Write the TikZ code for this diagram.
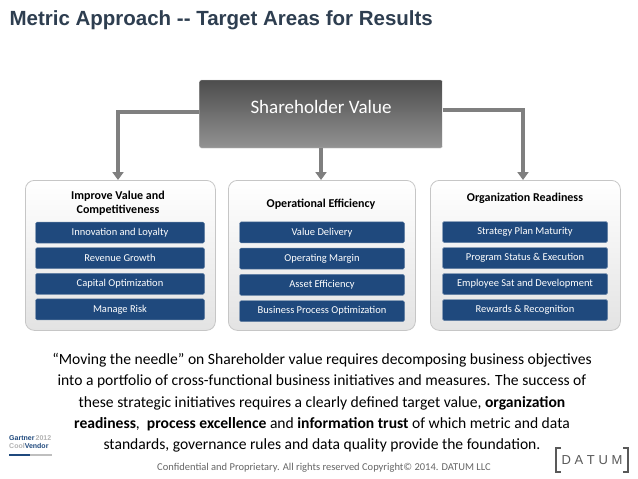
\documentclass[tikz,border=0pt]{standalone}
\usepackage{fontspec}
\setmainfont{Carlito}
\newfontfamily\headfont{Liberation Sans}
\usetikzlibrary{positioning,arrows.meta}
\definecolor{barblue}{HTML}{1F497D}
\definecolor{titlecol}{HTML}{2E3E50}
\definecolor{arrowgray}{HTML}{7F7F7F}
\tikzset{
  panel/.style={draw=gray!45, line width=0.8pt, rounded corners=9pt, top color=white, bottom color=gray!22, minimum width=#1, minimum height=150pt, anchor=north west},
  bar/.style={fill=barblue, draw=barblue!70!white, rounded corners=1.5pt, minimum height=21pt, text=white, font=\fontsize{10.5}{12}\selectfont},
  head/.style={font=\bfseries\fontsize{12}{14}\selectfont, align=center},
  feed/.style={draw=arrowgray, line width=3.5pt, -{Triangle[length=8pt,width=11pt]}}
}
\begin{document}
\begin{tikzpicture}[x=1pt,y=-1pt]
  \useasboundingbox[fill=white] (0,0) rectangle (638,479);
  \node[anchor=west, font=\headfont\bfseries\fontsize{20.5}{24}\selectfont, text=titlecol] (title) at (6,20) {Metric Approach -- Target Areas for Results};
  % top box
  \node[minimum width=243pt, minimum height=68pt, top color=gray!60!black, bottom color=gray!85, draw=gray!40, rounded corners=2pt, text=white, font=\fontsize{19}{22}\selectfont, text depth=14pt] (sv) at (321,114) {Shareholder Value};
  % panels
  \node[panel=190pt] (p1) at (25,180) {};
  \node[panel=187pt] (p2) at (228,180) {};
  \node[panel=190pt] (p3) at (430,180) {};
  \node[head] (h1) at (118,203) {Improve Value and\\Competitiveness};
  \node[head] (h2) at (321,204) {Operational Efficiency};
  \node[head] (h3) at (525,198) {Organization Readiness};
  % connectors
  \coordinate (c1) at (118,112);
  \coordinate (c3) at (523,110);
  \draw[feed] (sv.west |- c1) -- (c1) -- (p1.north -| c1);
  \draw[feed] (sv.south) -- (p2.north -| sv.south);
  \draw[feed] (sv.east |- c3) -- (c3) -- (p3.north -| c3);
  % bars
  \foreach \t [count=\i] in {Innovation and Loyalty,Revenue Growth,Capital Optimization,Manage Risk}
    \node[bar, minimum width=169pt] (a\i) at (120,{207+\i*25.6}) {\t};
  \foreach \t [count=\i] in {Value Delivery,Operating Margin,Asset Efficiency,Business Process Optimization}
    \node[bar, minimum width=165pt] (b\i) at (322,{206+\i*26.3}) {\t};
  \foreach \t [count=\i] in {Strategy Plan Maturity,Program Status \& Execution,Employee Sat and Development,Rewards \& Recognition}
    \node[bar, minimum width=165pt] (d\i) at (525,{206+\i*26}) {\t};
  % statement
  \node[align=center, font=\fontsize{15.6}{21.3}\selectfont] (txt) at (322,403) {“Moving the needle” on Shareholder value requires decomposing business objectives\\
    into a portfolio of cross-functional business initiatives and measures. The success of\\
    these strategic initiatives requires a clearly defined target value, \textbf{organization}\\
    \textbf{readiness}, \ \textbf{process excellence} and \textbf{information trust} of which metric and data\\
    standards, governance rules and data quality provide the foundation.};
  \node[font=\fontsize{10.5}{12}\selectfont, text=gray!80!black] (foot) at (324,468) {Confidential and Proprietary. All rights reserved Copyright© 2014. DATUM LLC};
  % logos
  \node[anchor=west, font=\headfont\bfseries\fontsize{7}{8}\selectfont, text=barblue, align=left, inner sep=0] (gart) at (9,442) {Gartner\textcolor{gray!60}{\,2012}\\\textcolor{gray!60}{Cool}Vendor};
  \fill[barblue] (9,454) rectangle (30,456);
  \fill[gray!50] (30,454) rectangle (52,456);
  \node[font=\headfont\fontsize{13}{15}\selectfont, text=gray!70!black] (datum) at (592,460) {D A T U M};
  \draw[gray!70!black, line width=1.2pt] (561,448) -- (556,448) -- (556,472) -- (561,472);
  \draw[gray!70!black, line width=1.2pt] (623,448) -- (628,448) -- (628,472) -- (623,472);
\end{tikzpicture}
\end{document}
